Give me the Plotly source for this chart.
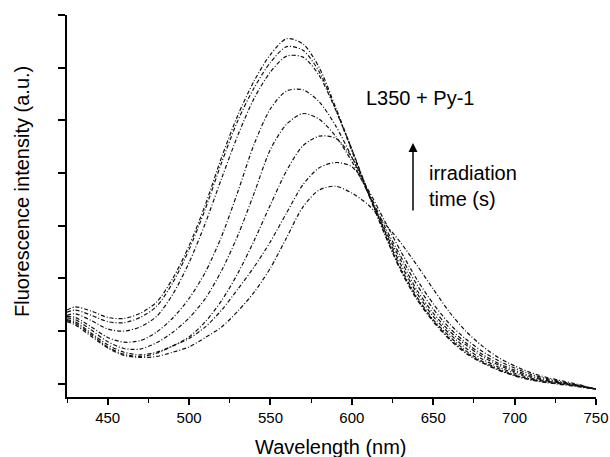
import plotly.graph_objects as go

wavelength = [425, 430, 440, 450, 460, 470, 480, 490, 500, 510, 520, 530, 540, 550,
              560, 570, 580, 590, 600, 610, 620, 630, 640, 650, 660, 670, 680, 690,
              700, 710, 720, 730, 740, 750]

c1 = [1.40, 1.46, 1.38, 1.26, 1.24, 1.34, 1.55, 2.00, 2.62, 3.40, 4.30, 5.10, 5.75, 6.25,
      6.55, 6.45, 6.00, 5.25, 4.45, 3.62, 2.85, 2.15, 1.60, 1.18, 0.84, 0.58, 0.40, 0.26,
      0.15, 0.07, 0.02, -0.02, -0.06, -0.10]
c2 = [1.36, 1.40, 1.30, 1.18, 1.16, 1.26, 1.47, 1.92, 2.55, 3.32, 4.20, 5.00, 5.62, 6.10,
      6.40, 6.33, 5.92, 5.22, 4.42, 3.62, 2.86, 2.17, 1.62, 1.20, 0.86, 0.60, 0.41, 0.27,
      0.16, 0.08, 0.03, -0.01, -0.05, -0.10]
c3 = [1.30, 1.33, 1.20, 1.04, 1.00, 1.08, 1.28, 1.70, 2.30, 3.05, 3.90, 4.72, 5.42, 5.92,
      6.22, 6.20, 5.85, 5.20, 4.45, 3.65, 2.90, 2.20, 1.65, 1.22, 0.90, 0.63, 0.43, 0.29,
      0.17, 0.09, 0.04, 0.00, -0.05, -0.10]
c4 = [1.28, 1.26, 1.08, 0.88, 0.79, 0.82, 0.98, 1.25, 1.62, 2.12, 2.80, 3.65, 4.55, 5.22,
      5.56, 5.58, 5.35, 4.90, 4.30, 3.62, 2.92, 2.27, 1.72, 1.28, 0.95, 0.68, 0.47, 0.32,
      0.20, 0.11, 0.05, 0.01, -0.04, -0.10]
c5 = [1.25, 1.22, 1.02, 0.80, 0.67, 0.66, 0.78, 0.98, 1.25, 1.62, 2.15, 2.82, 3.62, 4.45,
      4.93, 5.13, 5.02, 4.70, 4.22, 3.62, 2.95, 2.35, 1.78, 1.34, 1.00, 0.74, 0.52, 0.36,
      0.23, 0.13, 0.06, 0.01, -0.04, -0.10]
c6 = [1.22, 1.18, 0.96, 0.74, 0.60, 0.55, 0.60, 0.72, 0.89, 1.18, 1.58, 2.10, 2.72, 3.40,
      4.05, 4.52, 4.70, 4.66, 4.30, 3.66, 3.00, 2.42, 1.88, 1.42, 1.06, 0.78, 0.56, 0.39,
      0.26, 0.15, 0.08, 0.02, -0.03, -0.10]
c7 = [1.20, 1.15, 0.93, 0.70, 0.56, 0.52, 0.58, 0.72, 0.86, 1.08, 1.40, 1.80, 2.22, 2.70,
      3.25, 3.78, 4.10, 4.20, 4.12, 3.68, 3.10, 2.52, 1.98, 1.52, 1.14, 0.85, 0.62, 0.44,
      0.30, 0.18, 0.10, 0.03, -0.03, -0.10]
c8 = [1.18, 1.12, 0.90, 0.68, 0.54, 0.50, 0.52, 0.60, 0.70, 0.88, 1.08, 1.38, 1.74, 2.20,
      2.78, 3.36, 3.68, 3.75, 3.62, 3.40, 3.05, 2.68, 2.25, 1.80, 1.36, 1.00, 0.72, 0.50,
      0.34, 0.21, 0.12, 0.05, -0.02, -0.10]

series = [c1, c2, c3, c4, c5, c6, c7, c8]

x_ticks = [450, 500, 550, 600, 650, 700, 750]
x_minor = [425, 475, 525, 575, 625, 675, 725]
y_ticks = [0, 1, 2, 3, 4, 5, 6, 7]

FONT = "Liberation Sans, Arial, Helvetica, sans-serif"

fig = go.Figure()
for s in series:
    fig.add_trace(go.Scatter(
        x=wavelength, y=s, mode="lines",
        line=dict(color="#111111", width=1.2, dash="4px,2px,1px,2px", shape="spline", smoothing=0.8),
        showlegend=False, hoverinfo="skip", cliponaxis=False))

fig.update_layout(
    width=610, height=457,
    margin=dict(l=67, r=14, t=15, b=60, autoexpand=False),
    paper_bgcolor="white", plot_bgcolor="white",
    font=dict(family=FONT, color="black", size=14),
    xaxis=dict(range=[425, 750], tickmode="array", tickvals=x_ticks,
               showline=True, linecolor="black", linewidth=2,
               ticks="outside", ticklen=6, tickwidth=1.5, tickcolor="black",
               minor=dict(tickmode="array", tickvals=x_minor, ticks="outside",
                          ticklen=4, tickwidth=1.2, tickcolor="black"),
               showgrid=False, zeroline=False, tickfont=dict(size=15)),
    yaxis=dict(range=[-0.25, 7], tickmode="array", tickvals=y_ticks,
               showticklabels=False,
               showline=True, linecolor="black", linewidth=2,
               ticks="outside", ticklen=7, tickwidth=1.5, tickcolor="black",
               showgrid=False, zeroline=False),
)

fig.add_annotation(text="Wavelength (nm)", xref="paper", yref="paper",
                   x=(331 - 67) / 529, y=(397 - 447) / 382,
                   showarrow=False, font=dict(size=20), xanchor="center", yanchor="middle")
fig.add_annotation(text="Fluorescence intensity (a.u.)", xref="paper", yref="paper",
                   x=(22 - 67) / 529, y=(397 - 192) / 382, textangle=-90,
                   showarrow=False, font=dict(size=20), xanchor="center", yanchor="middle")
fig.add_annotation(text="L350 + Py-1", xref="paper", yref="paper",
                   x=(364 - 67) / 529, y=(397 - 98) / 382,
                   showarrow=False, font=dict(size=20), xanchor="left", yanchor="middle")
fig.add_annotation(text="irradiation<br>time (s)", xref="paper", yref="paper",
                   x=(427 - 67) / 529, y=(397 - 186) / 382, align="left",
                   showarrow=False, font=dict(size=20), xanchor="left", yanchor="middle")
fig.add_annotation(x=(413 - 67) / 529, y=(397 - 143) / 382, ax=0, ay=69,
                   xref="paper", yref="paper", axref="pixel", ayref="pixel",
                   showarrow=True, arrowhead=2, arrowsize=1.2, arrowwidth=1.5, arrowcolor="black", text="")

fig.write_html("out.html")
